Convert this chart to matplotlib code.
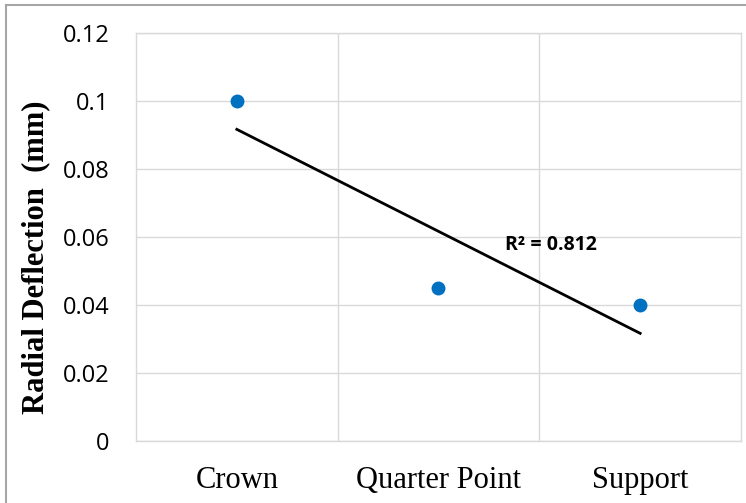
import numpy as np
import matplotlib.pyplot as plt
from matplotlib.lines import Line2D

categories = ['Crown', 'Quarter Point', 'Support']
deflection = [0.1, 0.045, 0.04]
y_ticks = [0, 0.02, 0.04, 0.06, 0.08, 0.1, 0.12]
y_tick_labels = ['0', '0.02', '0.04', '0.06', '0.08', '0.1', '0.12']

x = np.arange(1, len(categories) + 1)
y = np.array(deflection)

# linear trendline and R^2
slope, intercept = np.polyfit(x, y, 1)
fit = slope * x + intercept
r2 = 1 - np.sum((y - fit) ** 2) / np.sum((y - y.mean()) ** 2)

fig = plt.figure(figsize=(7.46, 5.03), dpi=100)
ax = fig.add_axes([0.1823, 0.1233, 0.811, 0.811])

ax.plot(x, fit, color='black', linewidth=2, zorder=2)
ax.plot(x, y, 'o', color='#0070C0', markersize=9, zorder=3)

ax.text(2.56, 0.0577, f'R² = {r2:.3f}', fontsize=14, fontweight='bold',
        family='Open Sans', ha='center', va='center')

ax.set_xlim(0.5, 3.5)
ax.set_ylim(0, 0.12)
ax.set_yticks(y_ticks)
ax.set_yticklabels(y_tick_labels, family='Open Sans', fontsize=17)
ax.set_xticks(x)
ax.set_xticklabels(categories, family='Liberation Serif', fontsize=22)
ax.set_xticks([1.5, 2.5], minor=True)
ax.tick_params(which='both', length=0)
ax.tick_params(axis='y', pad=19)
ax.tick_params(axis='x', pad=18)

ax.grid(axis='y', which='major', color='#d9d9d9', linewidth=1)
ax.grid(axis='x', which='minor', color='#d9d9d9', linewidth=1)
ax.set_axisbelow(True)
for s in ax.spines.values():
    s.set_color('#d9d9d9')
    s.set_linewidth(1)

ax.set_ylabel('Radial Deflection  (mm)', family='Liberation Serif',
              fontsize=22, fontweight='bold')
ax.yaxis.set_label_coords(-0.142, 0.451)

# outer frame lines (top and left)
fig.add_artist(Line2D([6 / 746, 1], [1 - 5 / 503, 1 - 5 / 503],
                      transform=fig.transFigure, color='#a6a6a6', linewidth=1.5))
fig.add_artist(Line2D([6 / 746, 6 / 746], [0, 1 - 5 / 503],
                      transform=fig.transFigure, color='#a6a6a6', linewidth=1.5))

fig.savefig('out.png', dpi=100)
